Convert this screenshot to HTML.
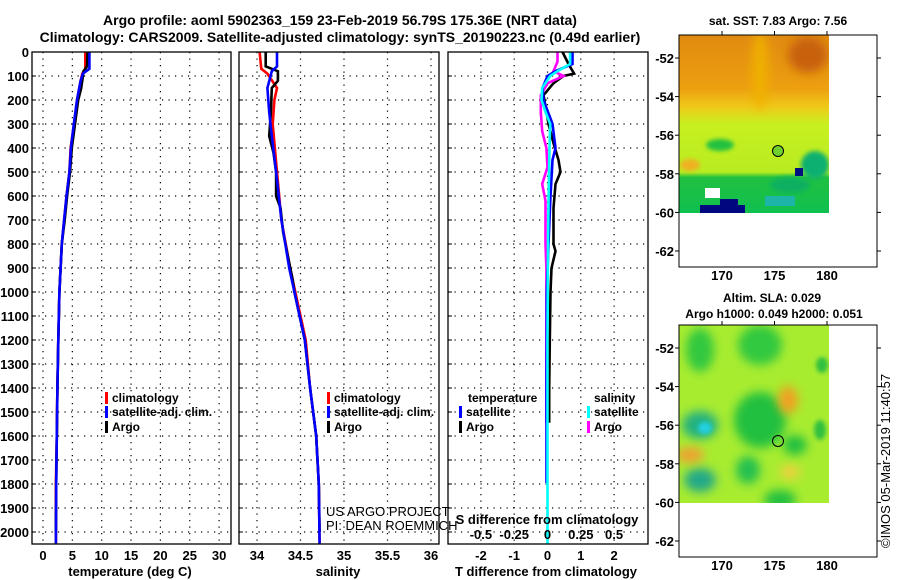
<!DOCTYPE html>
<html><head><meta charset="utf-8"><style>
html,body{margin:0;padding:0;background:#fff;}
svg{display:block;font-family:"Liberation Sans",sans-serif;}
.b{font-weight:bold;}
</style></head><body>
<svg id="c" width="900" height="580" xmlns="http://www.w3.org/2000/svg">
<defs>
<filter id="bl" x="-50%" y="-50%" width="200%" height="200%"><feGaussianBlur stdDeviation="5"/></filter>
<filter id="bl2" x="-50%" y="-50%" width="200%" height="200%"><feGaussianBlur stdDeviation="2"/></filter>
<linearGradient id="sstg" x1="0" y1="0" x2="0" y2="1">
<stop offset="0" stop-color="#e08a10"/><stop offset="0.3" stop-color="#eca010"/><stop offset="0.4" stop-color="#f0c818"/>
<stop offset="0.5" stop-color="#c8f020"/><stop offset="0.77" stop-color="#b8ec20"/><stop offset="0.8" stop-color="#20c040"/><stop offset="1" stop-color="#10c050"/>
</linearGradient>
<clipPath id="m1c"><rect x="679" y="35" width="150" height="178"/></clipPath>
<clipPath id="m2c"><rect x="679" y="325" width="150" height="178"/></clipPath>
</defs>
<text x="340" y="25" text-anchor="middle" class="b" font-size="14">Argo profile: aoml 5902363_159 23-Feb-2019 56.79S 175.36E (NRT data)</text>
<text x="340" y="42" text-anchor="middle" class="b" font-size="14">Climatology: CARS2009. Satellite-adjusted climatology: synTS_20190223.nc (0.49d earlier)</text>

<g id="p1"></g>
<g id="p2"></g>
<g id="p3"></g>
<g id="credits"></g>

<g>
<text x="778" y="25" text-anchor="middle" class="b" font-size="12">sat. SST: 7.83 Argo: 7.56</text>
<g clip-path="url(#m1c)">
<rect x="679" y="35" width="150" height="178" fill="url(#sstg)"/>
<ellipse cx="808" cy="55" rx="20" ry="18" fill="#c86010" filter="url(#bl)"/>
<ellipse cx="760" cy="70" rx="8" ry="40" fill="#f0b000" filter="url(#bl)"/>
<ellipse cx="720" cy="145" rx="14" ry="6" fill="#20c040" filter="url(#bl2)"/>
<ellipse cx="690" cy="165" rx="10" ry="6" fill="#f0b020" filter="url(#bl2)"/>
<ellipse cx="815" cy="165" rx="14" ry="14" fill="#10b070" filter="url(#bl2)"/>
<ellipse cx="790" cy="185" rx="20" ry="8" fill="#10b060" filter="url(#bl2)"/>
<rect x="795" y="168" width="8" height="8" fill="#001080"/>
<rect x="700" y="205" width="45" height="10" fill="#000880"/>
<rect x="720" y="199" width="18" height="8" fill="#000880"/>
<rect x="705" y="188" width="15" height="10" fill="#fff"/>
<rect x="765" y="196" width="30" height="10" fill="#20b0d0" opacity="0.7"/>
</g>
<circle cx="778" cy="151" r="5.5" fill="#70d030" stroke="#000" stroke-width="1"/>
<rect x="679" y="35" width="198" height="232" fill="none" stroke="#000" stroke-width="1"/>
</g>

<g>
<text x="772" y="302" text-anchor="middle" class="b" font-size="12">Altim. SLA: 0.029</text>
<text x="774" y="318" text-anchor="middle" class="b" font-size="12">Argo h1000: 0.049 h2000: 0.051</text>
<g clip-path="url(#m2c)">
<rect x="679" y="325" width="150" height="178" fill="#a8ec30"/>
<ellipse cx="700" cy="350" rx="14" ry="22" fill="#30c840" filter="url(#bl)"/>
<ellipse cx="760" cy="345" rx="22" ry="20" fill="#30c840" filter="url(#bl)"/>
<ellipse cx="760" cy="420" rx="26" ry="28" fill="#20c040" filter="url(#bl)"/>
<ellipse cx="795" cy="445" rx="12" ry="10" fill="#20c040" filter="url(#bl)"/>
<ellipse cx="700" cy="425" rx="18" ry="14" fill="#20b080" filter="url(#bl)"/>
<ellipse cx="705" cy="428" rx="7" ry="6" fill="#20d0e0" filter="url(#bl2)"/>
<ellipse cx="700" cy="480" rx="16" ry="12" fill="#20a888" filter="url(#bl)"/>
<ellipse cx="748" cy="470" rx="12" ry="14" fill="#20c050" filter="url(#bl)"/>
<ellipse cx="780" cy="500" rx="16" ry="10" fill="#20c040" filter="url(#bl)"/>
<ellipse cx="788" cy="400" rx="10" ry="14" fill="#f0a020" filter="url(#bl)"/>
<ellipse cx="690" cy="455" rx="14" ry="8" fill="#f0a030" filter="url(#bl)"/>
<ellipse cx="790" cy="472" rx="10" ry="7" fill="#f0d040" filter="url(#bl)"/>
<ellipse cx="820" cy="430" rx="6" ry="10" fill="#30c040" filter="url(#bl2)"/>
<ellipse cx="822" cy="365" rx="6" ry="8" fill="#30c040" filter="url(#bl2)"/>
</g>
<circle cx="778" cy="441" r="5.5" fill="none" stroke="#000" stroke-width="1"/>
<rect x="679" y="325" width="198" height="232" fill="none" stroke="#000" stroke-width="1"/>
</g>
<g id="maxes"></g>
<text transform="translate(890,548) rotate(-90)" font-size="13">©IMOS 05-Mar-2019 11:40:57</text>
</svg>
<script>
// ---- data ----
var depthTicks = [0,100,200,300,400,500,600,700,800,900,1000,1100,1200,1300,1400,1500,1600,1700,1800,1900,2000];
var tempTicks = [0,5,10,15,20,25,30];
var salTicks = [34,34.5,35,35.5,36];
var salTickLabels = ["34","34.5","35","35.5","36"];
var tdiffTicks = [-2,-1,0,1,2];
var sdiffTicks = [-0.5,-0.25,0,0.25,0.5];
var sdiffTickLabels = ["-0.5","-0.25","0","0.25","0.5"];

var tArgoDepth = [0,60,80,100,150,200,300,400,500,600,700,800,900,1000,1200,1400,1600,1800,2000];
var tArgo      = [7.6,7.5,6.9,6.8,6.5,6.0,5.45,4.9,4.6,4.1,3.7,3.2,3.0,2.8,2.6,2.45,2.35,2.25,2.2];
var tClimDepth = [0,70,90,120,200,300,400,500,600,700,800,1000,1200,1400,1600,1800,2050];
var tClim      = [7.2,7.2,6.7,6.4,5.8,5.3,4.7,4.5,4.0,3.6,3.2,2.8,2.6,2.45,2.35,2.2,2.2];
var tSatDepth  = [0,70,90,120,200,300,400,500,600,700,800,1000,1200,1400,1600,1800,2050];
var tSat       = [7.9,7.9,6.8,6.4,5.8,5.25,4.75,4.5,4.0,3.6,3.2,2.8,2.6,2.45,2.35,2.25,2.2];

var sArgoDepth = [0,60,80,120,150,250,350,420,500,600,650,750,860,950,1000,1200,1400,1600,1800,2000];
var sArgo      = [34.10,34.10,34.24,34.24,34.17,34.16,34.14,34.19,34.22,34.22,34.27,34.30,34.36,34.41,34.43,34.55,34.61,34.68,34.71,34.72];
var sClimDepth = [0,70,90,150,200,300,500,700,900,1000,1200,1400,1600,1800,2050];
var sClim      = [34.03,34.05,34.12,34.23,34.20,34.18,34.23,34.28,34.38,34.44,34.56,34.61,34.68,34.71,34.72];
var sSatDepth  = [0,60,80,150,250,350,500,700,900,1000,1200,1400,1600,1800,2050];
var sSat       = [34.23,34.23,34.17,34.12,34.14,34.17,34.22,34.28,34.37,34.43,34.55,34.61,34.68,34.71,34.72];

var dTArgoDepth = [0,50,90,100,130,180,250,300,380,450,500,550,650,800,830,900,1000,1200,1400,1545];
var dTArgo      = [0.45,0.63,0.8,0.48,0.18,-0.12,-0.03,0.03,0.18,0.33,0.39,0.24,0.18,0.18,0.24,0.12,0.09,0.07,0.05,0.05];
var dTSatDepth  = [0,50,80,100,150,200,300,400,450,600,800,1000,1400,1796];
var dTSat       = [0.75,0.75,0.24,0.0,-0.15,-0.12,0.15,0.24,0.15,0.09,0.03,-0.02,-0.03,-0.03];
var dSSatDepth  = [0,50,80,100,150,200,250,300,400,600,800,1200,2050];
var dSSat       = [0.17,0.17,0.075,0.02,-0.04,-0.045,-0.015,0.02,0.015,0.008,0.004,0.0,0.0];
var dSArgoDepth = [0,40,80,100,130,180,250,330,400,480,550,620,800,900,1000,1545];
var dSArgo      = [0.075,0.075,0.045,0.12,0.0,-0.05,-0.05,-0.04,-0.008,0.0,-0.04,-0.015,-0.015,-0.008,-0.008,-0.008];

// ---- layout ----
var NS='http://www.w3.org/2000/svg';
var TOP=52, BOT=544;
function yD(d){return TOP + d*0.24;}
function mk(parent,tag,attrs){var e=document.createElementNS(NS,tag);for(var k in attrs)e.setAttribute(k,attrs[k]);parent.appendChild(e);return e;}
function txt(parent,x,y,s,anchor,size,bold){var t=mk(parent,'text',{x:x,y:y,'text-anchor':anchor,'font-size':size});if(bold)t.setAttribute('font-weight','bold');t.textContent=s;return t;}

function panel(g,x0,x1,xfn,vticks,yLabels){
  mk(g,'rect',{x:x0,y:TOP,width:x1-x0,height:BOT-TOP,fill:'#fff',stroke:'none'});
  depthTicks.forEach(function(d){
    if(d>0) mk(g,'line',{x1:x0,x2:x1,y1:yD(d),y2:yD(d),stroke:'#000','stroke-width':1.2,'stroke-dasharray':'1.2,5.3'});
    mk(g,'line',{x1:x0,x2:x0+4,y1:yD(d),y2:yD(d),stroke:'#000'});
    if(yLabels){var t=txt(g,29,yD(d)+5,String(d),'end',13,true);
      
      }
  });
  vticks.forEach(function(v){var x=xfn(v);
    mk(g,'line',{x1:x,x2:x,y1:TOP,y2:BOT,stroke:'#000','stroke-width':1.2,'stroke-dasharray':'1.2,5.3'});});
}
function frame(g,x0,x1){mk(g,'rect',{x:x0,y:TOP,width:x1-x0,height:BOT-TOP,fill:'none',stroke:'#000','stroke-width':1.3});}
function series(g,depths,vals,xfn,color,name){
  var pts=depths.map(function(d,i){return xfn(vals[i]).toFixed(1)+','+yD(d).toFixed(1);}).join(' ');
  var p=mk(g,'polyline',{points:pts,fill:'none',stroke:color,'stroke-width':2.6,'stroke-linejoin':'miter'});
  
  
}
function legend(g,x,y,color,label,name){
  mk(g,'rect',{x:x,y:y-10,width:3,height:12,fill:color});
  var t=txt(g,x+7,y,label,'start',12,true);
  
  
}

// Panel 1: temperature
var g1=document.getElementById('p1');
function xT(v){return 43 + v*5.87;}
panel(g1,32,231,xT,tempTicks,true);
series(g1,tClimDepth,tClim,xT,'#ff0000','temp-climatology-line');
series(g1,tArgoDepth,tArgo,xT,'#000000','temp-argo-line');
series(g1,tSatDepth,tSat,xT,'#0000ff','temp-satellite-line');
frame(g1,32,231);
tempTicks.forEach(function(v){var t=txt(g1,xT(v),560,String(v),'middle',13,true);
  
  });
var a1=txt(g1,130,576,'temperature (deg C)','middle',13,true);


legend(g1,105,402,'#ff0000','climatology','legend-climatology');
legend(g1,105,416,'#0000ff','satellite-adj. clim.','legend-satellite');
legend(g1,105,431,'#000000','Argo','legend-argo');

// Panel 2: salinity
var g2=document.getElementById('p2');
function xS(v){return 257 + (v-34)*87;}
panel(g2,239,439,xS,salTicks,false);
series(g2,sClimDepth,sClim,xS,'#ff0000','sal-climatology-line');
series(g2,sArgoDepth,sArgo,xS,'#000000','sal-argo-line');
series(g2,sSatDepth,sSat,xS,'#0000ff','sal-satellite-line');
frame(g2,239,439);
salTicks.forEach(function(v,i){var t=txt(g2,xS(v),560,salTickLabels[i],'middle',13,true);
  
  });
var a2=txt(g2,338,576,'salinity','middle',13,true);


legend(g2,327,402,'#ff0000','climatology','legend-climatology');
legend(g2,327,416,'#0000ff','satellite-adj. clim.','legend-satellite');
legend(g2,327,431,'#000000','Argo','legend-argo');

// Panel 3: differences
var g3=document.getElementById('p3');
function xDT(v){return 547.5 + v*33.3;}
function xDS(v){return 547.5 + v*133.2;}
panel(g3,448,648,xDT,tdiffTicks,false);
series(g3,dTArgoDepth,dTArgo,xDT,'#000000','tdiff-argo-line');
series(g3,dSArgoDepth,dSArgo,xDS,'#ff00ff','sdiff-argo-line');
series(g3,dTSatDepth,dTSat,xDT,'#0000ff','tdiff-satellite-line');
series(g3,dSSatDepth,dSSat,xDS,'#00ffff','sdiff-satellite-line');
frame(g3,448,648);
tdiffTicks.forEach(function(v){var t=txt(g3,xDT(v),560,String(v),'middle',13,true);
  
  });
sdiffTicks.forEach(function(v,i){var t=txt(g3,xDS(v),539,sdiffTickLabels[i],'middle',13,true);
  
  });
var a3=txt(g3,546,576,'T difference from climatology','middle',13,true);


var a4=txt(g3,547,524,'S difference from climatology','middle',13,true);


var lt=txt(g3,468,402,'temperature','start',12,true);


var ls=txt(g3,594,402,'salinity','start',12,true);


legend(g3,459,416,'#0000ff','satellite','legend-t-satellite');
legend(g3,459,431,'#000000','Argo','legend-t-argo');
legend(g3,587,416,'#00ffff','satellite','legend-s-satellite');
legend(g3,587,431,'#ff00ff','Argo','legend-s-argo');

// credits (drawn on top so they overlap panel 3)
var gc=document.getElementById('credits');
var c1=txt(gc,326,516,'US ARGO PROJECT','start',13,false);


var c2=txt(gc,326,530,'PI: DEAN ROEMMICH','start',13,false);



// Map axes
var latTicks=[-52,-54,-56,-58,-60,-62];
var lonTicks=[170,175,180];
var ma=document.getElementById('maxes');
[[35,58,280],[325,348,570]].forEach(function(m){
  var top=m[0], lat0=m[1], lab=m[2];
  latTicks.forEach(function(la){var y=lat0+(-52-la)*19.3;
    mk(ma,'line',{x1:675,x2:679,y1:y,y2:y,stroke:'#000'});
    mk(ma,'line',{x1:877,x2:881,y1:y,y2:y,stroke:'#000'});
    var t=txt(ma,674,y+5,String(la),'end',13,true);
    
    });
  lonTicks.forEach(function(lo){var x=722+(lo-170)*10.5;
    mk(ma,'line',{x1:x,x2:x,y1:top-4,y2:top,stroke:'#000'});
    var t=txt(ma,x,lab,String(lo),'middle',13,true);
    
    });
});
</script>
</body></html>
